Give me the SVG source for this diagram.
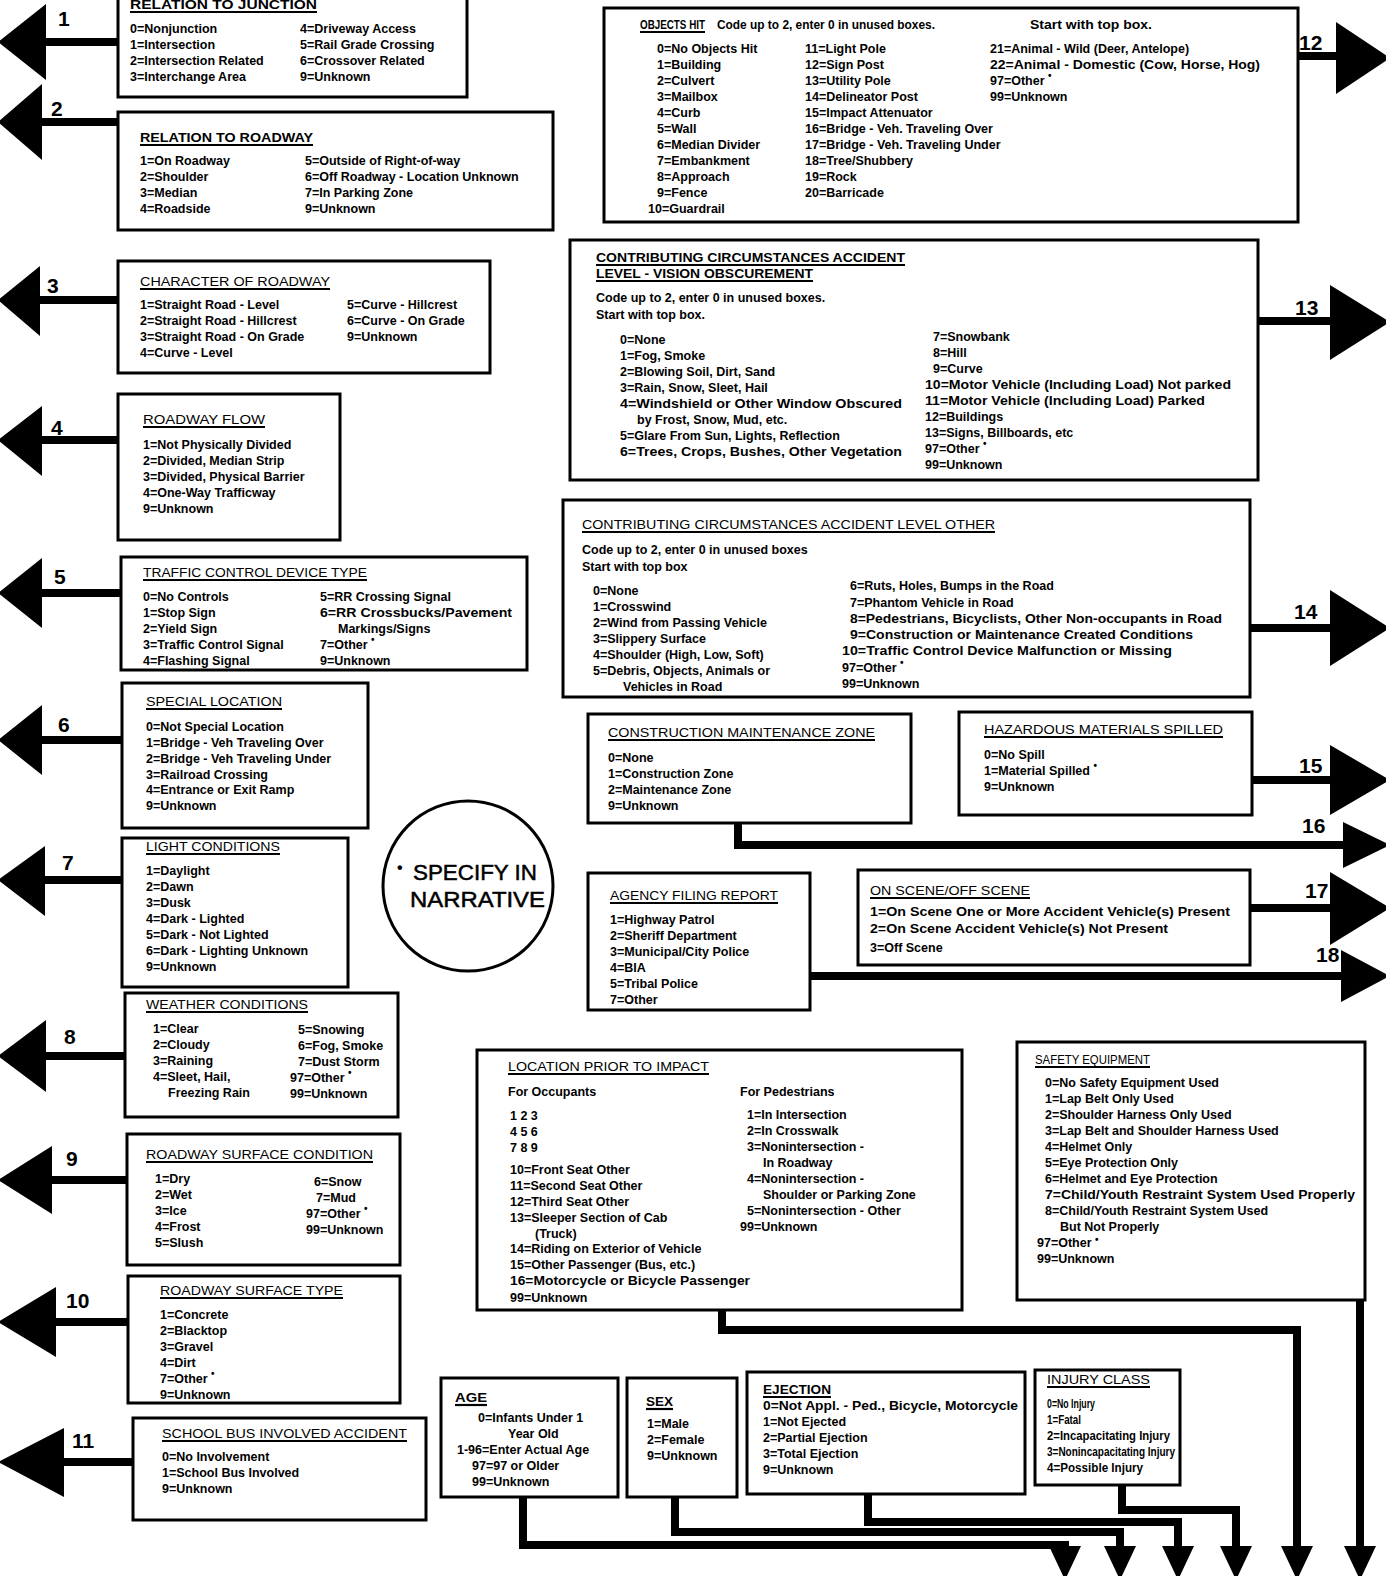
<svg xmlns="http://www.w3.org/2000/svg" width="1386" height="1576" viewBox="0 0 1386 1576">
<defs>
<style>
.b{fill:#fff;stroke:#000;stroke-width:3}
.h{font-family:"Liberation Sans",Arial,sans-serif;font-size:13px;fill:#000}
.hb{font-family:"Liberation Sans",Arial,sans-serif;font-size:13px;font-weight:bold;fill:#000}
.t{font-family:"Liberation Sans",Arial,sans-serif;font-size:12.5px;font-weight:bold;fill:#000}
.u{stroke:#000;stroke-width:2.2}
.c{fill:none;stroke:#000;stroke-width:8}
.a{fill:#000}
.n{font-family:"Liberation Sans",Arial,sans-serif;font-size:21px;font-weight:bold;fill:#000}
.s{font-size:10px}
</style>
</defs>
<rect width="1386" height="1576" fill="#fff"/>

<g id="connectors">
<path class="c" d="M40,42H118M40,122H118M38,300H118M42,440H118M42,593H121M42,740H122M45,880H122M45,1056H125M50,1180H127M55,1322H128M62,1462H133"/>
<path class="a" d="M-2,42L46,4L46,80Z M-2,122L42,84L42,160Z M-2,300L40,266L40,336Z M-2,440L42,406L42,476Z M-2,593L42,558L42,628Z M-2,740L42,705L42,775Z M-2,880L45,846L45,916Z M-2,1056L46,1020L46,1092Z M-2,1180L52,1146L52,1214Z M-2,1322L56,1287L56,1357Z M-2,1462L64,1428L64,1497Z"/>
<path class="c" d="M1298,56H1338M1258,321H1332M1250,628H1332M1252,780H1332M738,823V845H1345M1250,908H1332M810,976H1342"/>
<path class="a" d="M1336,22L1336,94L1390,58Z M1330,285L1330,360L1390,322Z M1330,590L1330,666L1390,628Z M1330,745L1330,815L1390,780Z M1343,822L1343,868L1390,845Z M1330,872L1330,945L1390,908Z M1341,950L1341,1002L1390,976Z"/>
<path class="c" d="M722,1310V1330H1297V1550M1360,1300V1550M523,1497V1545H1065V1550M675,1497V1532H1120V1550M868,1494V1522H1178V1550M1122,1485V1510H1236V1550"/>
<path class="a" d="M1049,1546L1081,1546L1065,1580Z M1104,1546L1136,1546L1120,1580Z M1162,1546L1194,1546L1178,1580Z M1220,1546L1252,1546L1236,1580Z M1281,1546L1313,1546L1297,1580Z M1344,1546L1376,1546L1360,1580Z"/>
<text class="n" x="58" y="26">1</text>
<text class="n" x="51" y="116">2</text>
<text class="n" x="47" y="293">3</text>
<text class="n" x="51" y="435">4</text>
<text class="n" x="54" y="584">5</text>
<text class="n" x="58" y="732">6</text>
<text class="n" x="62" y="870">7</text>
<text class="n" x="64" y="1044">8</text>
<text class="n" x="66" y="1166">9</text>
<text class="n" x="66" y="1308">10</text>
<text class="n" x="72" y="1448">11</text>
<text class="n" x="1299" y="50">12</text>
<text class="n" x="1295" y="315">13</text>
<text class="n" x="1294" y="619">14</text>
<text class="n" x="1299" y="773">15</text>
<text class="n" x="1302" y="833">16</text>
<text class="n" x="1305" y="898">17</text>
<text class="n" x="1316" y="962">18</text>
</g>

<g id="relation-to-junction">
<rect class="b" x="118" y="-6" width="349" height="103"/>
<text class="hb" x="130" y="9" textLength="187" lengthAdjust="spacingAndGlyphs">RELATION TO JUNCTION</text>
<line class="u" x1="130" y1="12" x2="317" y2="12"/>
<text class="t" x="130" y="33">0=Nonjunction</text>
<text class="t" x="130" y="49">1=Intersection</text>
<text class="t" x="130" y="65">2=Intersection Related</text>
<text class="t" x="130" y="81">3=Interchange Area</text>
<text class="t" x="300" y="33">4=Driveway Access</text>
<text class="t" x="300" y="49">5=Rail Grade Crossing</text>
<text class="t" x="300" y="65">6=Crossover Related</text>
<text class="t" x="300" y="81">9=Unknown</text>
</g>

<g id="relation-to-roadway">
<rect class="b" x="118" y="112" width="435" height="118"/>
<text class="hb" x="140" y="142" textLength="173" lengthAdjust="spacingAndGlyphs">RELATION TO ROADWAY</text>
<line class="u" x1="140" y1="145" x2="313" y2="145"/>
<text class="t" x="140" y="165">1=On Roadway</text>
<text class="t" x="140" y="181">2=Shoulder</text>
<text class="t" x="140" y="197">3=Median</text>
<text class="t" x="140" y="213">4=Roadside</text>
<text class="t" x="305" y="165">5=Outside of Right-of-way</text>
<text class="t" x="305" y="181">6=Off Roadway - Location Unknown</text>
<text class="t" x="305" y="197">7=In Parking Zone</text>
<text class="t" x="305" y="213">9=Unknown</text>
</g>

<g id="character-of-roadway">
<rect class="b" x="118" y="261" width="372" height="112"/>
<text class="h" x="140" y="286" textLength="190" lengthAdjust="spacingAndGlyphs">CHARACTER OF ROADWAY</text>
<line class="u" x1="140" y1="289" x2="330" y2="289"/>
<text class="t" x="140" y="309">1=Straight Road - Level</text>
<text class="t" x="140" y="325">2=Straight Road - Hillcrest</text>
<text class="t" x="140" y="341">3=Straight Road - On Grade</text>
<text class="t" x="140" y="357">4=Curve - Level</text>
<text class="t" x="347" y="309">5=Curve - Hillcrest</text>
<text class="t" x="347" y="325">6=Curve - On Grade</text>
<text class="t" x="347" y="341">9=Unknown</text>
</g>

<g id="roadway-flow">
<rect class="b" x="118" y="394" width="222" height="146"/>
<text class="h" x="143" y="424" textLength="122" lengthAdjust="spacingAndGlyphs">ROADWAY FLOW</text>
<line class="u" x1="143" y1="427" x2="265" y2="427"/>
<text class="t" x="143" y="449">1=Not Physically Divided</text>
<text class="t" x="143" y="465">2=Divided, Median Strip</text>
<text class="t" x="143" y="481">3=Divided, Physical Barrier</text>
<text class="t" x="143" y="497">4=One-Way Trafficway</text>
<text class="t" x="143" y="513">9=Unknown</text>
</g>

<g id="traffic-control-device-type">
<rect class="b" x="121" y="557" width="406" height="113"/>
<text class="h" x="143" y="577" textLength="224" lengthAdjust="spacingAndGlyphs">TRAFFIC CONTROL DEVICE TYPE</text>
<line class="u" x1="143" y1="580" x2="367" y2="580"/>
<text class="t" x="143" y="601">0=No Controls</text>
<text class="t" x="143" y="617">1=Stop Sign</text>
<text class="t" x="143" y="633">2=Yield Sign</text>
<text class="t" x="143" y="649">3=Traffic Control Signal</text>
<text class="t" x="143" y="665">4=Flashing Signal</text>
<text class="t" x="320" y="601">5=RR Crossing Signal</text>
<text class="t" x="320" y="617" textLength="192" lengthAdjust="spacingAndGlyphs">6=RR Crossbucks/Pavement</text>
<text class="t" x="338" y="633">Markings/Signs</text>
<text class="t" x="320" y="649">7=Other <tspan class="s" dy="-6">•</tspan></text>
<text class="t" x="320" y="665">9=Unknown</text>
</g>

<g id="special-location">
<rect class="b" x="122" y="683" width="246" height="145"/>
<text class="h" x="146" y="706" textLength="136" lengthAdjust="spacingAndGlyphs">SPECIAL LOCATION</text>
<line class="u" x1="146" y1="709" x2="282" y2="709"/>
<text class="t" x="146" y="731">0=Not Special Location</text>
<text class="t" x="146" y="747">1=Bridge - Veh  Traveling Over</text>
<text class="t" x="146" y="763">2=Bridge - Veh  Traveling Under</text>
<text class="t" x="146" y="779">3=Railroad Crossing</text>
<text class="t" x="146" y="794">4=Entrance or Exit Ramp</text>
<text class="t" x="146" y="810">9=Unknown</text>
</g>

<g id="light-conditions">
<rect class="b" x="122" y="838" width="226" height="149"/>
<text class="h" x="146" y="851" textLength="134" lengthAdjust="spacingAndGlyphs">LIGHT CONDITIONS</text>
<line class="u" x1="146" y1="854" x2="280" y2="854"/>
<text class="t" x="146" y="875">1=Daylight</text>
<text class="t" x="146" y="891">2=Dawn</text>
<text class="t" x="146" y="907">3=Dusk</text>
<text class="t" x="146" y="923">4=Dark - Lighted</text>
<text class="t" x="146" y="939">5=Dark - Not Lighted</text>
<text class="t" x="146" y="955">6=Dark - Lighting Unknown</text>
<text class="t" x="146" y="971">9=Unknown</text>
</g>

<g id="weather-conditions">
<rect class="b" x="125" y="993" width="273" height="124"/>
<text class="h" x="146" y="1009" textLength="162" lengthAdjust="spacingAndGlyphs">WEATHER CONDITIONS</text>
<line class="u" x1="146" y1="1012" x2="308" y2="1012"/>
<text class="t" x="153" y="1033">1=Clear</text>
<text class="t" x="153" y="1049">2=Cloudy</text>
<text class="t" x="153" y="1065">3=Raining</text>
<text class="t" x="153" y="1081">4=Sleet, Hail,</text>
<text class="t" x="168" y="1097">Freezing Rain</text>
<text class="t" x="298" y="1034">5=Snowing</text>
<text class="t" x="298" y="1050">6=Fog, Smoke</text>
<text class="t" x="298" y="1066">7=Dust Storm</text>
<text class="t" x="290" y="1082">97=Other <tspan class="s" dy="-6">•</tspan></text>
<text class="t" x="290" y="1098">99=Unknown</text>
</g>

<g id="roadway-surface-condition">
<rect class="b" x="127" y="1134" width="273" height="131"/>
<text class="h" x="146" y="1159" textLength="227" lengthAdjust="spacingAndGlyphs">ROADWAY SURFACE CONDITION</text>
<line class="u" x1="146" y1="1162" x2="373" y2="1162"/>
<text class="t" x="155" y="1183">1=Dry</text>
<text class="t" x="155" y="1199">2=Wet</text>
<text class="t" x="155" y="1215">3=Ice</text>
<text class="t" x="155" y="1231">4=Frost</text>
<text class="t" x="155" y="1247">5=Slush</text>
<text class="t" x="314" y="1186">6=Snow</text>
<text class="t" x="316" y="1202">7=Mud</text>
<text class="t" x="306" y="1218">97=Other <tspan class="s" dy="-6">•</tspan></text>
<text class="t" x="306" y="1234">99=Unknown</text>
</g>

<g id="roadway-surface-type">
<rect class="b" x="128" y="1276" width="272" height="127"/>
<text class="h" x="160" y="1295" textLength="183" lengthAdjust="spacingAndGlyphs">ROADWAY SURFACE TYPE</text>
<line class="u" x1="160" y1="1298" x2="343" y2="1298"/>
<text class="t" x="160" y="1319">1=Concrete</text>
<text class="t" x="160" y="1335">2=Blacktop</text>
<text class="t" x="160" y="1351">3=Gravel</text>
<text class="t" x="160" y="1367">4=Dirt</text>
<text class="t" x="160" y="1383">7=Other <tspan class="s" dy="-6">•</tspan></text>
<text class="t" x="160" y="1399">9=Unknown</text>
</g>

<g id="school-bus-involved-accident">
<rect class="b" x="133" y="1418" width="293" height="102"/>
<text class="h" x="162" y="1438" textLength="245" lengthAdjust="spacingAndGlyphs">SCHOOL BUS INVOLVED ACCIDENT</text>
<line class="u" x1="162" y1="1441" x2="407" y2="1441"/>
<text class="t" x="162" y="1461">0=No Involvement</text>
<text class="t" x="162" y="1477">1=School Bus Involved</text>
<text class="t" x="162" y="1493">9=Unknown</text>
</g>

<g id="specify-in-narrative">
<circle cx="468" cy="886" r="85" fill="#fff" stroke="#000" stroke-width="3"/>
<text x="397" y="873" font-family="'Liberation Sans',Arial,sans-serif" font-size="16" font-weight="bold">•</text>
<text x="413" y="880" font-family="'Liberation Sans',Arial,sans-serif" font-size="22" stroke="#000" stroke-width="0.5" textLength="124" lengthAdjust="spacingAndGlyphs">SPECIFY IN</text>
<text x="410" y="907" font-family="'Liberation Sans',Arial,sans-serif" font-size="22" stroke="#000" stroke-width="0.5" textLength="135" lengthAdjust="spacingAndGlyphs">NARRATIVE</text>
</g>

<g id="objects-hit">
<rect class="b" x="604" y="8" width="694" height="214"/>
<text class="hb" x="640" y="29" textLength="65" lengthAdjust="spacingAndGlyphs">OBJECTS HIT</text>
<line class="u" x1="640" y1="32" x2="705" y2="32"/>
<text class="t" x="717" y="29" textLength="218" lengthAdjust="spacingAndGlyphs">Code up to 2, enter 0 in unused boxes.</text>
<text class="t" x="1030" y="29" textLength="122" lengthAdjust="spacingAndGlyphs">Start with top box.</text>
<text class="t" x="657" y="53">0=No Objects Hit</text>
<text class="t" x="657" y="69">1=Building</text>
<text class="t" x="657" y="85">2=Culvert</text>
<text class="t" x="657" y="101">3=Mailbox</text>
<text class="t" x="657" y="117">4=Curb</text>
<text class="t" x="657" y="133">5=Wall</text>
<text class="t" x="657" y="149">6=Median Divider</text>
<text class="t" x="657" y="165">7=Embankment</text>
<text class="t" x="657" y="181">8=Approach</text>
<text class="t" x="657" y="197">9=Fence</text>
<text class="t" x="648" y="213">10=Guardrail</text>
<text class="t" x="805" y="53">11=Light Pole</text>
<text class="t" x="805" y="69">12=Sign Post</text>
<text class="t" x="805" y="85">13=Utility Pole</text>
<text class="t" x="805" y="101">14=Delineator Post</text>
<text class="t" x="805" y="117">15=Impact Attenuator</text>
<text class="t" x="805" y="133">16=Bridge - Veh. Traveling Over</text>
<text class="t" x="805" y="149">17=Bridge - Veh. Traveling Under</text>
<text class="t" x="805" y="165">18=Tree/Shubbery</text>
<text class="t" x="805" y="181">19=Rock</text>
<text class="t" x="805" y="197">20=Barricade</text>
<text class="t" x="990" y="53">21=Animal - Wild (Deer, Antelope)</text>
<text class="t" x="990" y="69" textLength="270" lengthAdjust="spacingAndGlyphs">22=Animal - Domestic (Cow, Horse, Hog)</text>
<text class="t" x="990" y="85">97=Other <tspan class="s" dy="-6">•</tspan></text>
<text class="t" x="990" y="101">99=Unknown</text>
</g>

<g id="vision-obscurement">
<rect class="b" x="570" y="240" width="688" height="240"/>
<text class="hb" x="596" y="262" textLength="309" lengthAdjust="spacingAndGlyphs">CONTRIBUTING CIRCUMSTANCES ACCIDENT</text>
<line class="u" x1="596" y1="265" x2="905" y2="265"/>
<text class="hb" x="596" y="278" textLength="217" lengthAdjust="spacingAndGlyphs">LEVEL - VISION OBSCUREMENT</text>
<line class="u" x1="596" y1="281" x2="813" y2="281"/>
<text class="t" x="596" y="302">Code up to 2, enter 0 in unused boxes.</text>
<text class="t" x="596" y="319">Start with top box.</text>
<text class="t" x="620" y="344">0=None</text>
<text class="t" x="620" y="360">1=Fog, Smoke</text>
<text class="t" x="620" y="376">2=Blowing Soil, Dirt, Sand</text>
<text class="t" x="620" y="392">3=Rain, Snow, Sleet, Hail</text>
<text class="t" x="620" y="408" textLength="282" lengthAdjust="spacingAndGlyphs">4=Windshield or Other Window Obscured</text>
<text class="t" x="637" y="424">by Frost, Snow, Mud, etc.</text>
<text class="t" x="620" y="440">5=Glare From Sun, Lights, Reflection</text>
<text class="t" x="620" y="456" textLength="282" lengthAdjust="spacingAndGlyphs">6=Trees, Crops, Bushes, Other Vegetation</text>
<text class="t" x="933" y="341">7=Snowbank</text>
<text class="t" x="933" y="357">8=Hill</text>
<text class="t" x="933" y="373">9=Curve</text>
<text class="t" x="925" y="389" textLength="306" lengthAdjust="spacingAndGlyphs">10=Motor Vehicle (Including Load) Not parked</text>
<text class="t" x="925" y="405" textLength="280" lengthAdjust="spacingAndGlyphs">11=Motor Vehicle (Including Load) Parked</text>
<text class="t" x="925" y="421">12=Buildings</text>
<text class="t" x="925" y="437">13=Signs, Billboards, etc</text>
<text class="t" x="925" y="453">97=Other <tspan class="s" dy="-6">•</tspan></text>
<text class="t" x="925" y="469">99=Unknown</text>
</g>

<g id="circumstances-other">
<rect class="b" x="563" y="500" width="687" height="197"/>
<text class="h" x="582" y="529" textLength="413" lengthAdjust="spacingAndGlyphs">CONTRIBUTING CIRCUMSTANCES ACCIDENT LEVEL  OTHER</text>
<line class="u" x1="582" y1="532" x2="995" y2="532"/>
<text class="t" x="582" y="554">Code up to 2, enter 0 in unused boxes</text>
<text class="t" x="582" y="571">Start with top box</text>
<text class="t" x="593" y="595">0=None</text>
<text class="t" x="593" y="611">1=Crosswind</text>
<text class="t" x="593" y="627">2=Wind from Passing Vehicle</text>
<text class="t" x="593" y="643">3=Slippery Surface</text>
<text class="t" x="593" y="659">4=Shoulder (High, Low, Soft)</text>
<text class="t" x="593" y="675">5=Debris, Objects, Animals or</text>
<text class="t" x="623" y="691">Vehicles in Road</text>
<text class="t" x="850" y="590">6=Ruts, Holes, Bumps in the Road</text>
<text class="t" x="850" y="607">7=Phantom Vehicle in Road</text>
<text class="t" x="850" y="623" textLength="372" lengthAdjust="spacingAndGlyphs">8=Pedestrians, Bicyclists, Other Non-occupants in Road</text>
<text class="t" x="850" y="639" textLength="343" lengthAdjust="spacingAndGlyphs">9=Construction or Maintenance Created Conditions</text>
<text class="t" x="842" y="655" textLength="330" lengthAdjust="spacingAndGlyphs">10=Traffic Control Device Malfunction or Missing</text>
<text class="t" x="842" y="672">97=Other <tspan class="s" dy="-6">•</tspan></text>
<text class="t" x="842" y="688">99=Unknown</text>
</g>

<g id="construction-maintenance-zone">
<rect class="b" x="588" y="714" width="323" height="109"/>
<text class="h" x="608" y="737" textLength="267" lengthAdjust="spacingAndGlyphs">CONSTRUCTION  MAINTENANCE ZONE</text>
<line class="u" x1="608" y1="740" x2="875" y2="740"/>
<text class="t" x="608" y="762">0=None</text>
<text class="t" x="608" y="778">1=Construction Zone</text>
<text class="t" x="608" y="794">2=Maintenance Zone</text>
<text class="t" x="608" y="810">9=Unknown</text>
</g>

<g id="hazardous-materials-spilled">
<rect class="b" x="959" y="712" width="293" height="103"/>
<text class="h" x="984" y="734" textLength="239" lengthAdjust="spacingAndGlyphs">HAZARDOUS MATERIALS SPILLED</text>
<line class="u" x1="984" y1="737" x2="1223" y2="737"/>
<text class="t" x="984" y="759">0=No Spill</text>
<text class="t" x="984" y="775">1=Material Spilled <tspan class="s" dy="-6">•</tspan></text>
<text class="t" x="984" y="791">9=Unknown</text>
</g>

<g id="agency-filing-report">
<rect class="b" x="588" y="873" width="222" height="137"/>
<text class="h" x="610" y="900" textLength="168" lengthAdjust="spacingAndGlyphs">AGENCY FILING REPORT</text>
<line class="u" x1="610" y1="903" x2="778" y2="903"/>
<text class="t" x="610" y="924">1=Highway Patrol</text>
<text class="t" x="610" y="940">2=Sheriff Department</text>
<text class="t" x="610" y="956">3=Municipal/City Police</text>
<text class="t" x="610" y="972">4=BIA</text>
<text class="t" x="610" y="988">5=Tribal Police</text>
<text class="t" x="610" y="1004">7=Other</text>
</g>

<g id="on-scene-off-scene">
<rect class="b" x="858" y="870" width="392" height="95"/>
<text class="h" x="870" y="895" textLength="160" lengthAdjust="spacingAndGlyphs">ON SCENE/OFF SCENE</text>
<line class="u" x1="870" y1="898" x2="1030" y2="898"/>
<text class="t" x="870" y="916" textLength="360" lengthAdjust="spacingAndGlyphs">1=On Scene One or More Accident Vehicle(s) Present</text>
<text class="t" x="870" y="933" textLength="298" lengthAdjust="spacingAndGlyphs">2=On Scene Accident Vehicle(s) Not Present</text>
<text class="t" x="870" y="952">3=Off Scene</text>
</g>

<g id="location-prior-to-impact">
<rect class="b" x="477" y="1050" width="485" height="260"/>
<text class="h" x="508" y="1071" textLength="201" lengthAdjust="spacingAndGlyphs">LOCATION PRIOR TO IMPACT</text>
<line class="u" x1="508" y1="1074" x2="709" y2="1074"/>
<text class="t" x="508" y="1096">For Occupants</text>
<text class="t" x="740" y="1096">For Pedestrians</text>
<text class="t" x="510" y="1120">1  2  3</text>
<text class="t" x="510" y="1136">4  5  6</text>
<text class="t" x="510" y="1152">7  8  9</text>
<text class="t" x="510" y="1174">10=Front Seat Other</text>
<text class="t" x="510" y="1190">11=Second Seat Other</text>
<text class="t" x="510" y="1206">12=Third Seat Other</text>
<text class="t" x="510" y="1222">13=Sleeper Section of Cab</text>
<text class="t" x="535" y="1238">(Truck)</text>
<text class="t" x="510" y="1253">14=Riding on Exterior of Vehicle</text>
<text class="t" x="510" y="1269">15=Other Passenger (Bus, etc.)</text>
<text class="t" x="510" y="1285" textLength="240" lengthAdjust="spacingAndGlyphs">16=Motorcycle or Bicycle Passenger</text>
<text class="t" x="510" y="1302">99=Unknown</text>
<text class="t" x="747" y="1119">1=In Intersection</text>
<text class="t" x="747" y="1135">2=In Crosswalk</text>
<text class="t" x="747" y="1151">3=Nonintersection -</text>
<text class="t" x="763" y="1167">In Roadway</text>
<text class="t" x="747" y="1183">4=Nonintersection -</text>
<text class="t" x="763" y="1199">Shoulder or Parking Zone</text>
<text class="t" x="747" y="1215">5=Nonintersection - Other</text>
<text class="t" x="740" y="1231">99=Unknown</text>
</g>

<g id="safety-equipment">
<rect class="b" x="1017" y="1042" width="348" height="258"/>
<text class="h" x="1035" y="1064" textLength="115" lengthAdjust="spacingAndGlyphs">SAFETY EQUIPMENT</text>
<line class="u" x1="1035" y1="1067" x2="1150" y2="1067"/>
<text class="t" x="1045" y="1087">0=No Safety Equipment Used</text>
<text class="t" x="1045" y="1103">1=Lap Belt Only Used</text>
<text class="t" x="1045" y="1119">2=Shoulder Harness Only Used</text>
<text class="t" x="1045" y="1135">3=Lap Belt and Shoulder Harness Used</text>
<text class="t" x="1045" y="1151">4=Helmet Only</text>
<text class="t" x="1045" y="1167">5=Eye Protection Only</text>
<text class="t" x="1045" y="1183">6=Helmet and Eye Protection</text>
<text class="t" x="1045" y="1199" textLength="310" lengthAdjust="spacingAndGlyphs">7=Child/Youth Restraint System Used Properly</text>
<text class="t" x="1045" y="1215">8=Child/Youth Restraint System Used</text>
<text class="t" x="1060" y="1231">But Not Properly</text>
<text class="t" x="1037" y="1247">97=Other <tspan class="s" dy="-4">•</tspan></text>
<text class="t" x="1037" y="1263">99=Unknown</text>
</g>

<g id="age">
<rect class="b" x="441" y="1378" width="177" height="119"/>
<text class="hb" x="455" y="1402" textLength="32" lengthAdjust="spacingAndGlyphs">AGE</text>
<line class="u" x1="455" y1="1405" x2="487" y2="1405"/>
<text class="t" x="478" y="1422">0=Infants Under 1</text>
<text class="t" x="508" y="1438">Year Old</text>
<text class="t" x="457" y="1454">1-96=Enter Actual Age</text>
<text class="t" x="472" y="1470">97=97 or Older</text>
<text class="t" x="472" y="1486">99=Unknown</text>
</g>

<g id="sex">
<rect class="b" x="627" y="1378" width="110" height="119"/>
<text class="hb" x="646" y="1406" textLength="27" lengthAdjust="spacingAndGlyphs">SEX</text>
<line class="u" x1="646" y1="1409" x2="673" y2="1409"/>
<text class="t" x="647" y="1428">1=Male</text>
<text class="t" x="647" y="1444">2=Female</text>
<text class="t" x="647" y="1460">9=Unknown</text>
</g>

<g id="ejection">
<rect class="b" x="747" y="1372" width="278" height="122"/>
<text class="hb" x="763" y="1394" textLength="68" lengthAdjust="spacingAndGlyphs">EJECTION</text>
<line class="u" x1="763" y1="1397" x2="831" y2="1397"/>
<text class="t" x="763" y="1410" textLength="255" lengthAdjust="spacingAndGlyphs">0=Not Appl. - Ped., Bicycle, Motorcycle</text>
<text class="t" x="763" y="1426">1=Not Ejected</text>
<text class="t" x="763" y="1442">2=Partial Ejection</text>
<text class="t" x="763" y="1458">3=Total Ejection</text>
<text class="t" x="763" y="1474">9=Unknown</text>
</g>

<g id="injury-class">
<rect class="b" x="1035" y="1370" width="145" height="115"/>
<text class="h" x="1047" y="1384" textLength="103" lengthAdjust="spacingAndGlyphs">INJURY CLASS</text>
<line class="u" x1="1047" y1="1387" x2="1150" y2="1387"/>
<text class="t" x="1047" y="1408" textLength="48" lengthAdjust="spacingAndGlyphs">0=No Injury</text>
<text class="t" x="1047" y="1424" textLength="34" lengthAdjust="spacingAndGlyphs">1=Fatal</text>
<text class="t" x="1047" y="1440" textLength="123" lengthAdjust="spacingAndGlyphs">2=Incapacitating Injury</text>
<text class="t" x="1047" y="1456" textLength="128" lengthAdjust="spacingAndGlyphs">3=Nonincapacitating Injury</text>
<text class="t" x="1047" y="1472" textLength="96" lengthAdjust="spacingAndGlyphs">4=Possible Injury</text>
</g>
</svg>
